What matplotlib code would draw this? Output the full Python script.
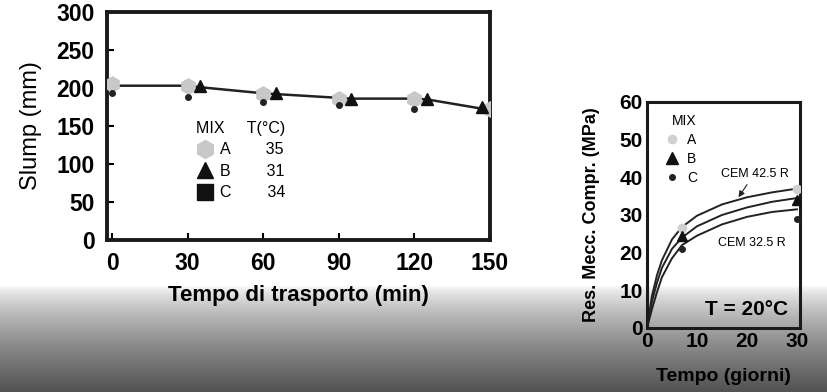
import numpy as np
import matplotlib
matplotlib.use('Agg')
import matplotlib.pyplot as plt
from matplotlib.lines import Line2D

plt.rcParams['font.family'] = ['Liberation Sans', 'DejaVu Sans']

# slump nel tempo di trasporto
t_A = [0, 30, 60, 90, 120, 150]
slump_A = [205, 202, 192, 185, 186, 172]
t_B = [35, 65, 95, 125, 147]
slump_B = [202, 193, 186, 186, 175]
t_C = [0, 30, 60, 90, 120]
slump_C = [193, 188, 182, 177, 172]
t_trend = [0, 30, 35, 60, 65, 90, 95, 120, 125, 150]
slump_trend = [203, 203, 201, 193, 192, 187, 186, 186, 185, 171]

mixes = ['A', 'B', 'C']
temps = [35, 31, 34]

# resistenza a compressione
g_pts = [7, 30]
res_A = [26.5, 37]
res_B = [24.5, 34]
res_C = [21, 29]
g_curve = [0, 1, 2, 3, 5, 7, 10, 15, 20, 25, 30]
curve_425 = [0, 8.5, 14, 18, 23.5, 26.8, 29.8, 32.8, 34.7, 36, 37]
curve_mid = [0, 7, 12, 16, 21, 24, 27, 30, 32, 33.5, 34.5]
curve_325 = [0, 5, 9.5, 13.5, 18.5, 22, 24.5, 27.5, 29.5, 30.8, 31.5]

fig = plt.figure(figsize=(8.27, 3.92), dpi=100)

# sfondo della scansione
bg = fig.add_axes([0, 0, 1, 1], zorder=-10)
grad = np.ones((392, 1))
rows = np.arange(392)
grad[rows > 285, 0] = 1 - 0.68 * ((rows[rows > 285] - 285) / 107) ** 0.7
bg.imshow(grad, cmap='gray', vmin=0, vmax=1, aspect='auto', extent=[0, 1, 0, 1])
bg.axis('off')

# grafico slump
ax1 = fig.add_axes([0.1294, 0.3878, 0.463, 0.5816])
ax1.patch.set_alpha(0)
ax1.plot(t_trend, slump_trend, color='#222222', lw=1.8, zorder=2)
ax1.plot(t_A, slump_A, 'h', color='#c8c8c8', ms=11, zorder=3)
ax1.plot(t_B, slump_B, '^', color='#111111', ms=9, zorder=4)
ax1.plot(t_C, slump_C, 'o', color='#222222', ms=4, zorder=4)
ax1.set_xlim(-2, 150)
ax1.set_ylim(0, 300)
ax1.set_xticks([0, 30, 60, 90, 120, 150])
ax1.set_yticks([0, 50, 100, 150, 200, 250, 300])
ax1.tick_params(direction='in', length=5, width=1.5, labelsize=16.5, pad=9)
for lab in ax1.get_xticklabels() + ax1.get_yticklabels():
    lab.set_fontweight('bold')
for s in ax1.spines.values():
    s.set_linewidth(2.8)
    s.set_color('#1a1a1a')
ax1.set_xlabel('Tempo di trasporto (min)', fontsize=16, fontweight='bold', labelpad=7)
ax1.set_ylabel('Slump (mm)', fontsize=17, labelpad=10)

h1 = [Line2D([], [], marker='h', color='#c8c8c8', ls='', ms=13),
      Line2D([], [], marker='^', color='#111111', ls='', ms=12),
      Line2D([], [], marker='s', color='#111111', ls='', ms=12)]
lab1 = [f'{m}        {t}' for m, t in zip(mixes, temps)]
leg1 = ax1.legend(h1, lab1, title='MIX     T(°C)', loc='upper left',
                  bbox_to_anchor=(0.215, 0.55), frameon=False, fontsize=11.5,
                  title_fontsize=11.5, handletextpad=0.3, labelspacing=0.4,
                  handlelength=1.2, borderaxespad=0)
leg1._legend_box.align = 'right'

# grafico resistenza
ax2 = fig.add_axes([0.7823, 0.1633, 0.185, 0.5765])
ax2.patch.set_alpha(0)
ax2.plot(g_curve, curve_425, color='#222222', lw=1.4)
ax2.plot(g_curve, curve_mid, color='#222222', lw=1.4)
ax2.plot(g_curve, curve_325, color='#222222', lw=1.4)
ax2.plot(g_pts, res_A, 'o', color='#d0d0d0', ms=6, zorder=3)
ax2.plot(g_pts, res_B, '^', color='#111111', ms=7, zorder=3)
ax2.plot(g_pts, res_C, 'o', color='#222222', ms=4, zorder=3)
ax2.set_xlim(0, 30.6)
ax2.set_ylim(0, 60)
ax2.set_xticks([0, 10, 20, 30])
ax2.set_yticks([0, 10, 20, 30, 40, 50, 60])
ax2.tick_params(direction='in', length=0, labelsize=15, pad=3)
for lab in ax2.get_xticklabels() + ax2.get_yticklabels():
    lab.set_fontweight('bold')
for s in ax2.spines.values():
    s.set_linewidth(2.2)
    s.set_color('#1a1a1a')
ax2.set_xlabel('Tempo (giorni)', fontsize=14, fontweight='bold', labelpad=12)
ax2.set_ylabel('Res. Mecc. Compr. (MPa)', fontsize=13, fontweight='bold', labelpad=14)

h2 = [Line2D([], [], marker='o', color='#d0d0d0', ls='', ms=6),
      Line2D([], [], marker='^', color='#111111', ls='', ms=8),
      Line2D([], [], marker='o', color='#222222', ls='', ms=4)]
leg2 = ax2.legend(h2, mixes, title='MIX', loc='upper left',
                  bbox_to_anchor=(0.08, 0.97), frameon=False, fontsize=10,
                  title_fontsize=10, handletextpad=0.6, labelspacing=0.35,
                  handlelength=1.0, borderaxespad=0)
leg2._legend_box.align = 'right'

ax2.annotate('CEM 42.5 R', xy=(18, curve_425[8] - 0.6), xytext=(21.5, 41),
             fontsize=9, ha='center', va='center',
             arrowprops=dict(arrowstyle='-|>', color='#222222', lw=0.8))
ax2.text(21, 22.5, 'CEM 32.5 R', fontsize=9, ha='center', va='center')
ax2.text(20, 5, 'T = 20°C', fontsize=15, fontweight='bold', ha='center', va='center')

fig.savefig('out.png', dpi=100)
